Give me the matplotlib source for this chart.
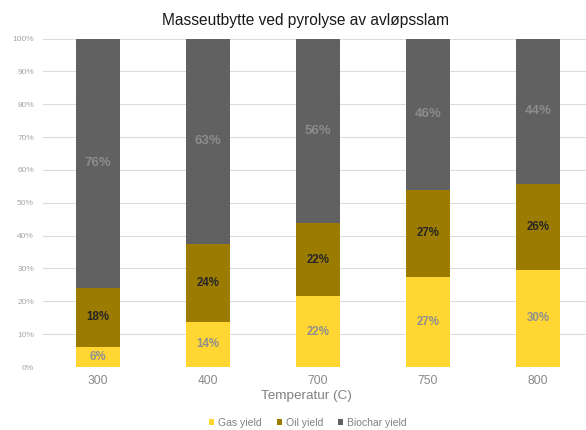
import numpy as np
import matplotlib
matplotlib.use("Agg")
import matplotlib.pyplot as plt

plt.rcParams['font.family'] = ['Liberation Sans', 'DejaVu Sans']

temperatures = ["300", "400", "700", "750", "800"]
gas_yield = [6.2, 13.7, 21.6, 27.4, 29.6]
oil_yield = [17.9, 23.7, 22.2, 26.6, 26.0]
biochar_yield = [75.9, 62.6, 56.2, 46.0, 44.4]
y_ticks = [0, 10, 20, 30, 40, 50, 60, 70, 80, 90, 100]

gas_color = "#FFD632"
oil_color = "#9B7B00"
char_color = "#616161"

fig = plt.figure(figsize=(5.86, 4.30), dpi=100)
ax = fig.add_axes([43 / 586, 63 / 430, 550 / 586, 328.5 / 430])

x = np.arange(len(temperatures))
w = 0.4
gas = np.array(gas_yield)
oil = np.array(oil_yield)
char = np.array(biochar_yield)

ax.bar(x, gas, w, color=gas_color, label="Gas yield", zorder=3)
ax.bar(x, oil, w, bottom=gas, color=oil_color, label="Oil yield", zorder=3)
ax.bar(x, char, w, bottom=gas + oil, color=char_color, label="Biochar yield", zorder=3)

# segment labels
for i in range(len(x)):
    ax.text(x[i], gas[i] / 2, f"{gas[i]:.0f}%", ha="center", va="center",
            fontsize=8.3, fontweight="bold", color="#8f8f8f", zorder=4)
    ax.text(x[i], gas[i] + oil[i] / 2, f"{oil[i]:.0f}%", ha="center", va="center",
            fontsize=8.3, fontweight="bold", color="#262626", zorder=4)
    ax.text(x[i], gas[i] + oil[i] + char[i] / 2, f"{char[i]:.0f}%", ha="center",
            va="center", fontsize=9.5, fontweight="bold", color="#8c8c8c", zorder=4)

ax.set_xlim(-0.5, len(x) - 0.5)
ax.set_ylim(0, 100)
ax.set_yticks(y_ticks)
ax.set_yticklabels([f"{t}%" for t in y_ticks], fontsize=6, color="#a6a6a6")
ax.set_xticks(x)
ax.set_xticklabels(temperatures, fontsize=8.7, color="#8a8a8a")
ax.tick_params(axis="y", length=0, pad=6.5)
ax.tick_params(axis="x", length=0, pad=6)
ax.grid(axis="y", color="#dcdcdc", linewidth=0.8, zorder=0)
for s in ax.spines.values():
    s.set_visible(False)

fig.text(306 / 586, 1 - 396 / 430, "Temperatur (C)", ha="center", va="center",
         fontsize=9.7, color="#808080")
fig.text(306 / 586, 1 - 20 / 430, "Masseutbytte ved pyrolyse av avløpsslam",
         ha="center", va="center", fontsize=11.2, color="#1a1a1a")

leg = fig.legend(loc="center", bbox_to_anchor=(308 / 586, 1 - 423 / 430), ncol=3,
                 frameon=False, fontsize=7.5, handlelength=0.5, handleheight=0.5,
                 handletextpad=0.4, columnspacing=1.4, labelcolor="#808080")

fig.savefig("out.png", dpi=100)
